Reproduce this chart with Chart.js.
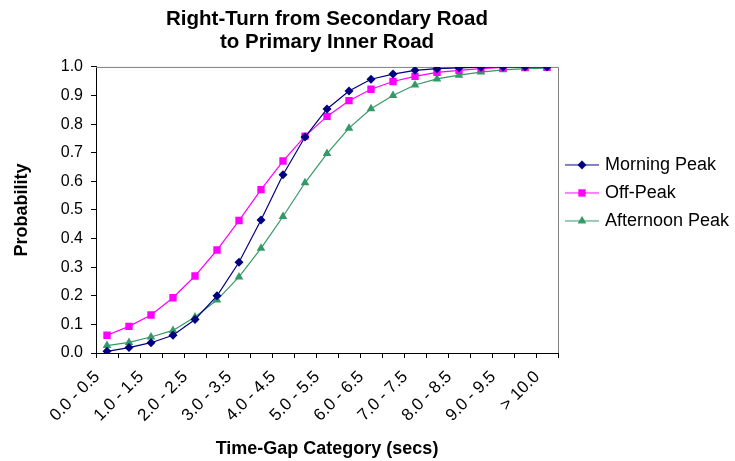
<!DOCTYPE html>
<html>
<head>
<meta charset="utf-8">
<script src="https://cdn.jsdelivr.net/npm/chart.js@4.4.1/dist/chart.umd.min.js"></script>
<style>
  html, body { margin: 0; padding: 0; background: #ffffff; }
  #wrap { width: 735px; height: 461px; position: relative; }
</style>
</head>
<body>
<div id="wrap"><canvas id="c" width="735" height="461"></canvas></div>
<script>
const categories = [
  "0.0 - 0.5", "0.5 - 1.0", "1.0 - 1.5", "1.5 - 2.0", "2.0 - 2.5", "2.5 - 3.0",
  "3.0 - 3.5", "3.5 - 4.0", "4.0 - 4.5", "4.5 - 5.0", "5.0 - 5.5", "5.5 - 6.0",
  "6.0 - 6.5", "6.5 - 7.0", "7.0 - 7.5", "7.5 - 8.0", "8.0 - 8.5", "8.5 - 9.0",
  "9.0 - 9.5", "9.5 - 10.0", "> 10.0"
];
const morningPeak = [0.006, 0.019, 0.036, 0.062, 0.117, 0.200, 0.317, 0.465, 0.623, 0.755, 0.853,
  0.916, 0.957, 0.975, 0.988, 0.994, 0.997, 0.999, 1.000, 1.000, 1.000];
const offPeak = [0.062, 0.093, 0.133, 0.193, 0.269, 0.360, 0.463, 0.571, 0.671, 0.758, 0.827,
  0.882, 0.922, 0.949, 0.967, 0.981, 0.988, 0.994, 0.998, 0.999, 0.999];
const afternoonPeak = [0.026, 0.037, 0.056, 0.079, 0.126, 0.185, 0.266, 0.366, 0.477, 0.595, 0.697,
  0.786, 0.854, 0.900, 0.937, 0.958, 0.971, 0.982, 0.990, 0.994, 0.996];
const yTicks = [0.0, 0.1, 0.2, 0.3, 0.4, 0.5, 0.6, 0.7, 0.8, 0.9, 1.0];
const seriesNames = ["Morning Peak", "Off-Peak", "Afternoon Peak"];
const titleLines = ["Right-Turn from Secondary Road", "to Primary Inner Road"];
const xTitle = "Time-Gap Category (secs)";
const yTitle = "Probability";

const FONT = "'Liberation Sans', Arial, sans-serif";
Chart.defaults.font.family = FONT;
Chart.defaults.color = "#000000";

const styles = [
  { color: "#000080", point: "rectRot", radius: 4.5 },
  { color: "#FF00FF", point: "rect", radius: 5.2 },
  { color: "#339966", point: "triangle", radius: 5 }
];

function legendIcon(st) {
  const cv = document.createElement("canvas");
  cv.width = 34; cv.height = 14;
  const ctx = cv.getContext("2d");
  ctx.strokeStyle = st.color; ctx.lineWidth = 1.2;
  ctx.beginPath(); ctx.moveTo(0, 7); ctx.lineTo(34, 7); ctx.stroke();
  ctx.fillStyle = st.color;
  ctx.strokeStyle = st.color;
  Chart.helpers.drawPoint(ctx, { pointStyle: st.point, rotation: 0, borderWidth: 0, radius: st.radius }, 17, 7);
  return cv;
}
const icons = styles.map(legendIcon);

const plotBorder = {
  id: "plotBorder",
  beforeDatasetsDraw(chart) {
    const a = chart.chartArea, ctx = chart.ctx;
    ctx.save();
    ctx.strokeStyle = "#808080"; ctx.lineWidth = 1;
    ctx.beginPath();
    ctx.moveTo(a.left, a.top + 0.5); ctx.lineTo(a.right + 0.5, a.top + 0.5);
    ctx.lineTo(a.right + 0.5, a.bottom);
    ctx.stroke();
    ctx.restore();
  }
};

const seriesData = [morningPeak, offPeak, afternoonPeak];
const datasets = seriesData.map((d, i) => ({
  label: seriesNames[i],
  data: d,
  borderColor: styles[i].color,
  backgroundColor: styles[i].color,
  pointBackgroundColor: styles[i].color,
  pointBorderColor: styles[i].color,
  pointStyle: styles[i].point,
  pointRadius: styles[i].radius,
  pointHoverRadius: styles[i].radius,
  pointBorderWidth: 0,
  borderWidth: 1.2,
  tension: 0,
  fill: false
}));

new Chart(document.getElementById("c"), {
  type: "line",
  data: { labels: categories, datasets },
  plugins: [plotBorder],
  options: {
    responsive: false,
    animation: false,
    events: [],
    layout: { padding: { left: 0, right: 0, top: 0, bottom: 0 } },
    plugins: {
      tooltip: { enabled: false },
      title: {
        display: true,
        text: titleLines,
        fullSize: false,
        color: "#000000",
        font: { size: 20.5, weight: "bold", lineHeight: 1.12, family: FONT },
        padding: { top: 8, bottom: 13 }
      },
      legend: {
        display: true,
        position: "right",
        align: "start",
        fullSize: false,
        maxWidth: 177,
        title: { display: true, text: " ", font: { size: 10 }, padding: { top: 67, bottom: 0 } },
        labels: {
          color: "#000000",
          font: { size: 18, family: FONT },
          usePointStyle: true,
          pointStyleWidth: 28,
          padding: 10,
          generateLabels(chart) {
            return chart.data.datasets.map((ds, i) => ({
              text: ds.label,
              fillStyle: styles[i].color,
              strokeStyle: styles[i].color,
              lineWidth: 0,
              pointStyle: icons[i],
              hidden: false,
              datasetIndex: i,
              fontColor: "#000000"
            }));
          }
        }
      }
    },
    scales: {
      x: {
        type: "category",
        offset: true,
        afterFit(scale) { scale.height = 108; },
        grid: { display: true, offset: true, drawOnChartArea: false, drawTicks: true, tickLength: 5, color: "#000000" },
        border: { display: true, color: "#000000", width: 1 },
        ticks: {
          autoSkip: false,
          maxRotation: 45,
          minRotation: 45,
          padding: 9,
          labelOffset: -10,
          color: "#000000",
          font: { size: 17, family: FONT },
          callback(v, i) { return i % 2 === 0 ? categories[i] : ""; }
        },
        title: {
          display: true,
          text: xTitle,
          color: "#000000",
          font: { size: 18, weight: "bold", family: FONT },
          padding: { top: 0, bottom: 1 }
        }
      },
      y: {
        min: 0,
        max: 1,
        afterFit(scale) { scale.width = 96; },
        afterBuildTicks(scale) { scale.ticks = yTicks.map(v => ({ value: v })); },
        grid: { display: true, drawOnChartArea: false, drawTicks: true, tickLength: 5, color: "#000000" },
        border: { display: true, color: "#000000", width: 1 },
        ticks: {
          color: "#000000",
          padding: 8,
          font: { size: 16, family: FONT },
          callback(v) { return Number(v).toFixed(1); }
        },
        title: {
          display: true,
          text: yTitle,
          color: "#000000",
          font: { size: 18, weight: "bold", family: FONT },
          padding: { top: 11, bottom: 0 }
        }
      }
    }
  }
});
</script>
</body>
</html>
